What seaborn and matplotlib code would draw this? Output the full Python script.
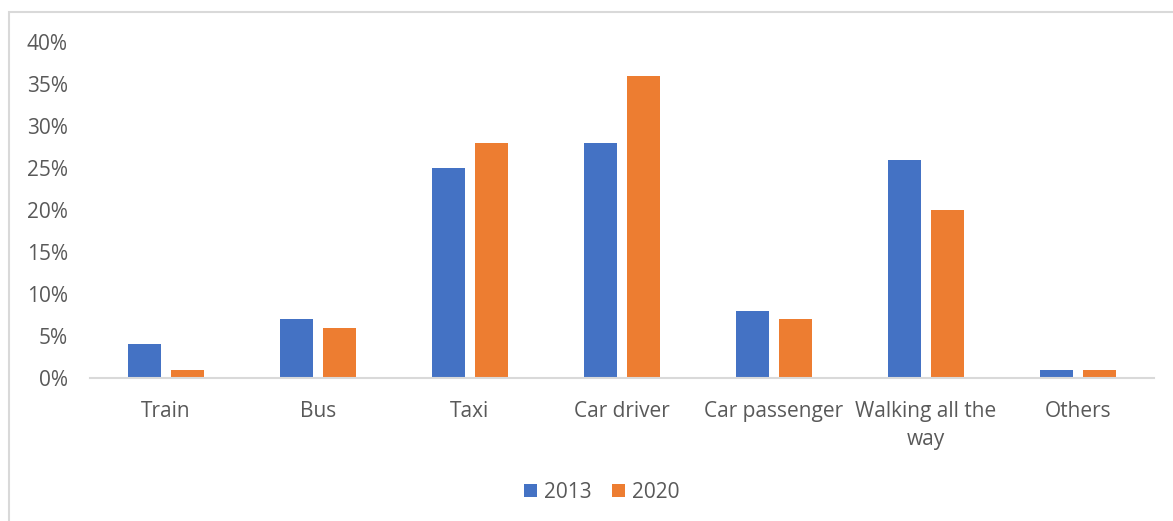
import matplotlib
matplotlib.use("Agg")
import matplotlib.pyplot as plt
from matplotlib.patches import Rectangle, Patch
from matplotlib.ticker import PercentFormatter
import pandas as pd
import seaborn as sns

# Share of trips by travel mode
modes = ["Train", "Bus", "Taxi", "Car driver", "Car passenger",
         "Walking all the\nway", "Others"]
years = ["2013", "2020"]
share_2013 = [4, 7, 25, 28, 8, 26, 1]
share_2020 = [1, 6, 28, 36, 7, 20, 1]
y_ticks = [0, 5, 10, 15, 20, 25, 30, 35, 40]

df = pd.DataFrame({
    "mode": modes * 2,
    "year": [years[0]] * len(modes) + [years[1]] * len(modes),
    "share": share_2013 + share_2020,
})

sns.set_theme(style="white")
plt.rcParams["font.family"] = ["Open Sans", "DejaVu Sans"]

text_grey = "#595959"
line_grey = "#d9d9d9"
palette = {"2013": "#4472C4", "2020": "#ED7D31"}
fs = 15

W, H = 1173, 521
fig = plt.figure(figsize=(W / 100, H / 100), dpi=100)
ax = fig.add_axes([90 / W, (H - 378) / H, (1154 - 90) / W, 336 / H])

sns.barplot(data=df, x="mode", y="share", hue="year", order=modes,
            hue_order=years, palette=palette, saturation=1, width=0.566,
            gap=0.21, edgecolor="none", linewidth=0, ax=ax, legend=False)

ax.set_ylim(0, 40)
ax.set_yticks(y_ticks)
ax.yaxis.set_major_formatter(PercentFormatter(decimals=0))
ax.set_xlim(-0.5, len(modes) - 0.5)
ax.set_xlabel("")
ax.set_ylabel("")

for side in ["top", "right", "left"]:
    ax.spines[side].set_visible(False)
ax.spines["bottom"].set_color(line_grey)
ax.spines["bottom"].set_linewidth(1.5)

ax.tick_params(axis="y", length=0, pad=16, labelsize=fs, labelcolor=text_grey)
ax.tick_params(axis="x", length=0, pad=16.5, labelsize=fs, labelcolor=text_grey)
for lbl in ax.get_xticklabels():
    lbl.set_linespacing(1.45)
    lbl.set_verticalalignment("top")

handles = [Patch(facecolor=palette[y], edgecolor="none") for y in years]
fig.legend(handles, years, loc="center", bbox_to_anchor=(602 / W, 1 - 492 / H),
           ncol=2, frameon=False, fontsize=fs, labelcolor=text_grey,
           handlelength=0.6, handleheight=0.6, handletextpad=0.35,
           columnspacing=1.0)

# chart-area border
fig.patches.append(Rectangle((9 / W, -0.1), 1.2, 1.1 - 12 / H,
                             transform=fig.transFigure, fill=False,
                             edgecolor=line_grey, linewidth=1.5))

fig.savefig("out.png", dpi=100, facecolor="white")
